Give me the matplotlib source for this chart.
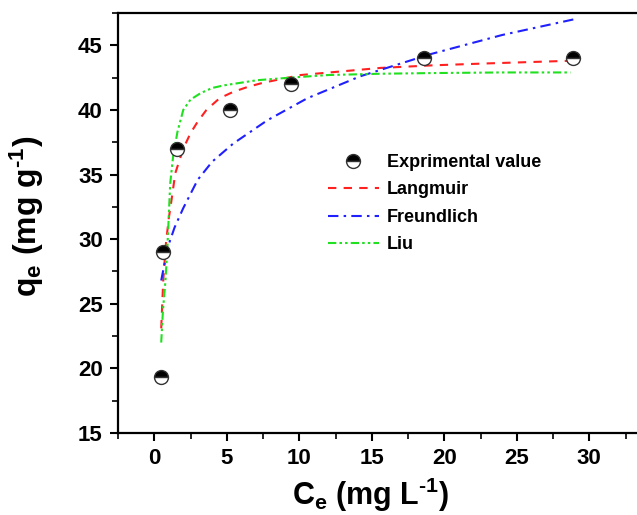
import matplotlib
matplotlib.use("Agg")
import matplotlib.pyplot as plt
from matplotlib.ticker import MultipleLocator, FixedLocator

plt.rcParams['font.family'] = ['Liberation Sans', 'DejaVu Sans']
plt.rcParams['font.weight'] = 'bold'
plt.rcParams['mathtext.fontset'] = 'custom'
plt.rcParams['mathtext.rm'] = 'Liberation Sans:bold'
plt.rcParams['mathtext.bf'] = 'Liberation Sans:bold'
plt.rcParams['mathtext.it'] = 'Liberation Sans:bold'

# Experimental data
ce_exp = [0.48, 0.6, 1.6, 5.2, 9.4, 18.6, 28.9]
qe_exp = [19.3, 29.0, 37.0, 40.0, 42.0, 44.0, 44.0]

# Fitted curves
lang_x = [0.48, 0.62, 0.8, 1.0, 1.15, 1.45, 2.0, 2.5, 3.0, 3.6, 4.5, 5.45, 6.5, 7.5, 10.1, 12.1, 15.6, 19.2, 23.0, 28.6]
lang_y = [23.1, 26.8, 29.6, 31.6, 32.7, 35.1, 37.0, 38.2, 39.1, 40.0, 40.9, 41.4, 41.8, 42.1, 42.7, 42.9, 43.25, 43.45, 43.6, 43.8]

freu_x = [0.48, 0.62, 0.8, 1.0, 1.4, 2.0, 3.0, 4.0, 5.45, 7.8, 10.55, 14.2, 19.0, 24.0, 28.9]
freu_y = [26.8, 27.6, 28.6, 29.6, 30.9, 32.4, 34.6, 36.0, 37.4, 39.2, 40.9, 42.6, 44.3, 45.8, 47.0]

liu_x = [0.48, 0.6, 0.76, 0.9, 1.1, 1.3, 1.6, 2.0, 2.5, 3.2, 4.0, 4.8, 7.1, 9.4, 12.0, 15.6, 19.0, 24.0, 28.7]
liu_y = [22.0, 24.5, 26.6, 29.2, 34.3, 36.4, 38.3, 40.0, 40.8, 41.3, 41.7, 41.9, 42.3, 42.5, 42.7, 42.8, 42.85, 42.9, 42.9]

x_major = [0, 5, 10, 15, 20, 25, 30]

W, H = 637, 515
fig = plt.figure(figsize=(W / 100, H / 100), dpi=100)
ax = fig.add_axes([118 / W, 82 / H, 37.5 * 14.5 / W, 420 / H])

ax.plot(lang_x, lang_y, color='#ff2020', ls=(0, (4, 3.5)), lw=1.5, label='Langmuir', zorder=2)
ax.plot(freu_x, freu_y, color='#2020ff', ls=(0, (5, 2.5, 1.2, 2.5)), lw=1.5, label='Freundlich', zorder=2)
ax.plot(liu_x, liu_y, color='#20e020', ls=(0, (4, 1.5, 1.2, 1.5, 1.2, 1.5)), lw=1.5, label='Liu', zorder=2)
ax.plot(ce_exp, qe_exp, ls='none', marker='o', markersize=10, fillstyle='top',
        markerfacecolor='black', markerfacecoloralt='white', markeredgecolor='#333333',
        markeredgewidth=1.0, label='Exprimental value', zorder=3)

ax.set_xlim(-2.5, 35)
ax.set_ylim(15, 47.5)
ax.xaxis.set_major_locator(FixedLocator(x_major))
ax.xaxis.set_minor_locator(FixedLocator([-2.5, 2.5, 7.5, 12.5, 17.5, 22.5, 27.5, 32.5]))
ax.yaxis.set_major_locator(MultipleLocator(5))
ax.yaxis.set_minor_locator(MultipleLocator(2.5))
ax.tick_params(which='major', direction='out', length=6, width=1.5, labelsize=16, pad=5)
ax.tick_params(which='minor', direction='out', length=4, width=1.2)
ax.tick_params(top=False, right=False, which='both')
for lbl in ax.get_xticklabels() + ax.get_yticklabels():
    lbl.set_fontweight('bold')
for s in ['left', 'bottom', 'top', 'right']:
    ax.spines[s].set_linewidth(1.6)

ax.set_xlabel(r'C$_\mathregular{e}$ (mg L$^\text{-1}$)', fontsize=22, fontweight='bold')
ax.set_ylabel(r'q$_\mathregular{e}$ (mg g$^\text{-1}$)', fontsize=23, fontweight='bold')
ax.xaxis.set_label_coords((371 - 118) / 544, -0.102)
ax.yaxis.set_label_coords(-0.132, (433 - 216) / 420)

handles, labels = ax.get_legend_handles_labels()
order = [3, 0, 1, 2]
leg = ax.legend([handles[i] for i in order], [labels[i] for i in order],
                loc='upper left', bbox_to_anchor=(328 / W, (H - 154) / H),
                bbox_transform=fig.transFigure, frameon=False, fontsize=13,
                handlelength=2.8, handletextpad=0.45, labelspacing=0.58,
                borderpad=0, borderaxespad=0)
for t in leg.get_texts():
    t.set_fontweight('bold')

fig.savefig('out.png', dpi=100)
